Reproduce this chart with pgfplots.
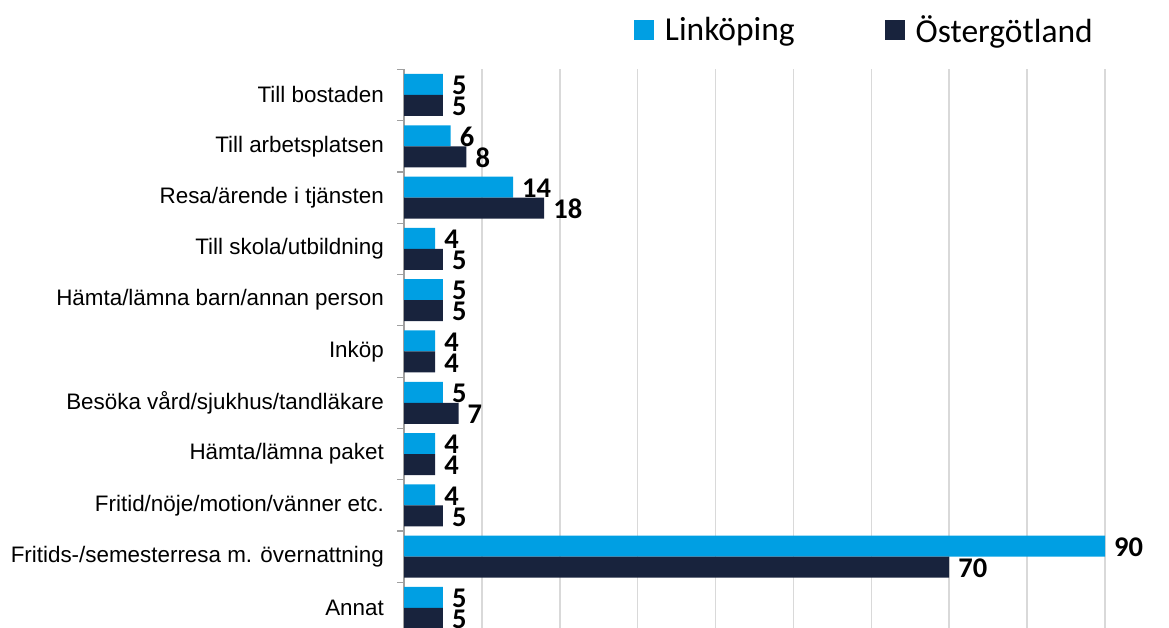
\documentclass[border=0pt]{standalone}
\usepackage{pgfplots}
\pgfplotsset{compat=1.18}
\usepackage{fontspec}
\setmainfont{Liberation Sans}
\newfontfamily\carlito{Carlito}
\definecolor{lblue}{RGB}{0,159,227}
\definecolor{dnavy}{RGB}{24,35,61}
\definecolor{gridc}{RGB}{217,217,217}
\definecolor{axc}{RGB}{160,160,160}
\begin{document}
\begin{tikzpicture}
\begin{axis}[
  at={(404pt,-5.65pt)}, anchor=south west,
  scale only axis, width=701pt, height=564.3pt,
  xbar, bar width=21pt,
  xmin=0, xmax=90, ymin=-0.5, ymax=10.5,
  xtick={0,10,...,90}, xticklabels={},
  xmajorgrids, grid style={draw=gridc, line width=1.5pt},
  axis x line*=bottom, axis y line*=left, axis line style={-},
  x axis line style={draw=none},
  y axis line style={draw=axc, line width=1.2pt},
  xtick style={draw=none},
  ytick={0,...,10},
  yticklabels={Annat,{Fritids-/semesterresa m. övernattning},{Fritid/nöje/motion/vänner etc.},{Hämta/lämna paket},{Besöka vård/sjukhus/tandläkare},{Inköp},{Hämta/lämna barn/annan person},{Till skola/utbildning},{Resa/ärende i tjänsten},{Till arbetsplatsen},{Till bostaden}},
  ytick style={draw=none},
  major tick length=0pt,
  minor ytick={-0.5,0.5,...,10.5},
  minor tick length=7pt,
  tick align=outside,
  minor y tick style={draw=axc, line width=1.2pt},
  yticklabel style={font=\fontsize{22.4}{26}\selectfont, inner sep=0pt, xshift=-20pt, anchor=east},
  point meta=x,
  /pgf/number format/assume math mode=true,
  nodes near coords,
  every node near coord/.append style={anchor=west, xshift=9pt, yshift=-1pt, inner sep=0pt, font=\carlito\bfseries\fontsize{28.5}{30}\selectfont, text=black},
  legend columns=2,
  legend image code/.code={\fill[#1] (0pt,-10pt) rectangle (20pt,10pt);},
  legend style={at={(0.328,1.0697)}, anchor=west, draw=none, fill=none, inner sep=0pt, outer sep=0pt,
    font=\carlito\fontsize{33.5}{36}\selectfont,
    nodes={inner sep=0pt, outer sep=0pt},
    /tikz/every odd column/.append style={column sep=11pt},
    /tikz/every even column/.append style={column sep=90pt}},
  clip=false,
]
\addplot[fill=lblue, draw=none, bar shift=10.5pt] coordinates {
 (5,10) (6,9) (14,8) (4,7) (5,6) (4,5) (5,4) (4,3) (4,2) (90,1) (5,0)};
\addlegendentry{Linköping}
\addplot[fill=dnavy, draw=none, bar shift=-10.5pt] coordinates {
 (5,10) (8,9) (18,8) (5,7) (5,6) (4,5) (7,4) (4,3) (5,2) (70,1) (5,0)};
\addlegendentry{Östergötland}
\end{axis}
\pgfresetboundingbox
\useasboundingbox (0pt,0pt) rectangle (1169pt,628pt);
\end{tikzpicture}
\end{document}
